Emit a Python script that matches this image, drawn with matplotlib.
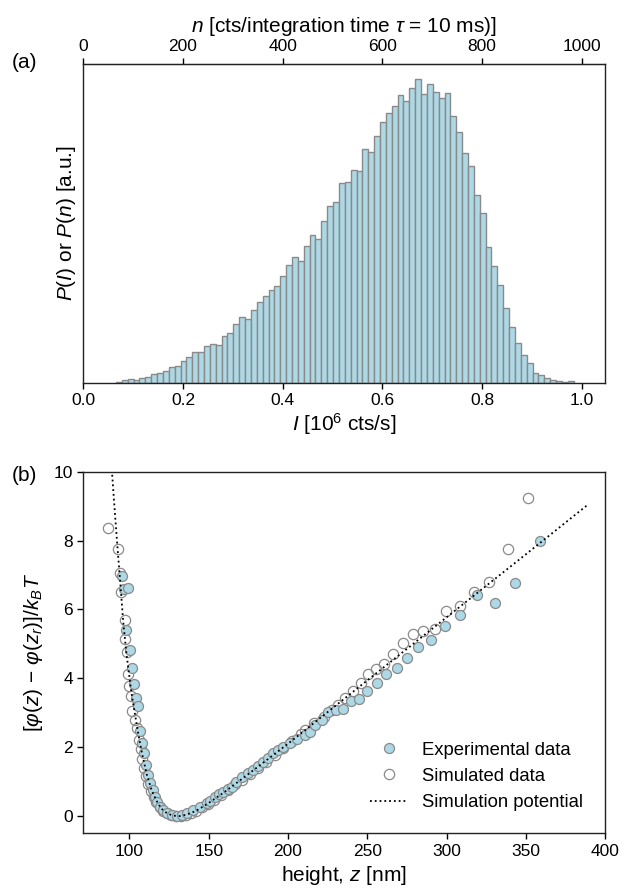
import numpy as np
import matplotlib
matplotlib.use("Agg")
import matplotlib.pyplot as plt
from matplotlib.lines import Line2D

plt.rcParams["font.family"] = ["Liberation Sans", "DejaVu Sans"]
plt.rcParams["mathtext.fontset"] = "custom"
plt.rcParams["mathtext.rm"] = "Liberation Sans"
plt.rcParams["mathtext.it"] = "Liberation Sans:italic"
plt.rcParams["mathtext.bf"] = "Liberation Sans:bold"

# ----- (a) intensity histogram, bar heights (a.u.) -----
hist_first_edge = 0.0656   # 10^6 cts/s
hist_last_edge = 0.984
hist_heights = [
    1.0, 2.3, 4.0, 3.0, 5.0, 6.0, 8.3, 9.7, 12.0, 15.3,
    17.0, 21.3, 26.0, 31.0, 31.0, 37.0, 39.0, 37.7, 46.3, 50.0,
    58.3, 65.7, 64.0, 72.7, 81.0, 86.3, 92.3, 96.7, 106.7, 117.3,
    125.3, 121.3, 136.3, 147.7, 144.0, 162.0, 176.3, 180.3, 199.7, 200.3,
    212.7, 212.0, 234.0, 230.7, 247.0, 260.3, 269.7, 276.3, 287.7, 282.0,
    295.0, 303.3, 289.0, 298.7, 290.3, 284.7, 289.7, 267.0, 251.0, 230.0,
    217.0, 187.3, 169.3, 136.0, 116.3, 97.3, 74.3, 55.3, 39.3, 28.0,
    19.3, 9.3, 7.3, 4.7, 3.0, 1.3, 0.3, 1.3,
]

# ----- (b) potential vs height -----
exp_z = [
    95.2, 96.7, 97.7, 99.2, 100.3, 101.3, 102.8, 104.0, 105.5, 106.6,
    107.8, 109.3, 110.4, 111.6, 112.9, 114.6, 116.0, 117.5, 119.2, 121.3,
    123.8, 126.6, 129.7, 132.9, 136.0, 140.2, 144.4, 148.7, 151.0, 153.9,
    156.5, 159.2, 162.0, 164.5, 167.5, 170.8, 174.5, 178.1, 181.0, 184.4,
    187.5, 190.7, 194.0, 197.0, 201.0, 205.5, 210.8, 213.9, 217.0, 221.3,
    225.5, 230.3, 234.9, 239.6, 245.0, 250.1, 256.0, 261.9, 268.6, 274.9,
    282.3, 290.3, 298.9, 308.6, 319.1, 330.7, 343.3, 358.7,
]
exp_phi = [
    6.97, 6.60, 5.39, 6.62, 4.83, 4.30, 3.84, 3.43, 3.20, 2.48,
    2.13, 1.82, 1.48, 1.19, 0.95, 0.75, 0.56, 0.42, 0.27, 0.17,
    0.10, 0.03, 0.00, 0.03, 0.08, 0.17, 0.27, 0.37, 0.45, 0.56,
    0.63, 0.71, 0.78, 0.85, 0.98, 1.14, 1.25, 1.35, 1.46, 1.57,
    1.70, 1.82, 1.92, 2.00, 2.12, 2.25, 2.35, 2.44, 2.64, 2.78,
    3.02, 3.07, 3.12, 3.34, 3.40, 3.63, 3.86, 4.14, 4.31, 4.60,
    4.91, 5.12, 5.51, 5.84, 6.41, 6.18, 6.76, 8.00,
]

sim_z = [
    86.2, 92.9, 93.9, 94.6, 96.9, 97.3, 98.2, 98.8, 99.8, 100.7,
    101.9, 103.4, 104.9, 106.0, 107.0, 108.2, 109.4, 110.7, 112.0, 113.5,
    115.2, 117.0, 119.0, 121.3, 123.8, 126.5, 129.5, 132.5, 135.5, 138.8,
    142.2, 145.8, 149.5, 153.5, 157.7, 162.0, 166.5, 171.0, 176.0, 181.0,
    186.0, 191.5, 197.0, 202.5, 208.0, 210.9, 216.2, 222.5, 227.7, 231.8,
    236.0, 241.2, 246.1, 250.7, 255.6, 260.6, 266.1, 272.8, 278.7, 285.4,
    292.8, 299.6, 308.6, 317.5, 327.1, 338.7, 351.1,
]
sim_phi = [
    8.36, 7.75, 7.06, 6.50, 5.68, 5.13, 4.76, 4.14, 3.77, 3.49,
    3.05, 2.80, 2.55, 2.20, 1.95, 1.65, 1.40, 1.15, 0.92, 0.72,
    0.55, 0.40, 0.27, 0.16, 0.08, 0.03, 0.00, 0.00, 0.03, 0.08,
    0.15, 0.25, 0.35, 0.48, 0.62, 0.75, 0.92, 1.06, 1.22, 1.40,
    1.58, 1.78, 1.98, 2.18, 2.38, 2.50, 2.69, 2.88, 3.07, 3.22,
    3.44, 3.63, 3.86, 4.12, 4.28, 4.41, 4.72, 5.02, 5.29, 5.37,
    5.44, 5.95, 6.09, 6.52, 6.79, 7.76, 9.23,
]

pot_z = [
    89.1, 90.5, 92.5, 94.0, 96.0, 98.0, 101.3, 105.5, 108.0, 111.0,
    114.0, 117.0, 120.0, 124.0, 128.0, 132.0, 136.0, 142.0, 150.0, 160.0,
    175.0, 200.0, 250.0, 300.0, 350.0, 389.6,
]
pot_phi = [
    9.91, 9.00, 7.76, 6.90, 5.68, 4.75, 3.56, 2.40, 1.80, 1.20,
    0.75, 0.45, 0.22, 0.07, 0.01, 0.00, 0.04, 0.15, 0.38, 0.70,
    1.22, 2.10, 3.94, 5.77, 7.60, 9.06,
]

FILL = "#add8e6"
EDGE = "#8a8a8a"
TICK_FS = 12.5
LABEL_FS = 15


def style_axes(ax):
    for sp in ax.spines.values():
        sp.set_linewidth(1.0)
        sp.set_color("#222222")
    ax.tick_params(direction="out", length=4, width=1, labelsize=TICK_FS)


def main() -> None:
    fig = plt.figure(figsize=(6.34, 8.96), dpi=100)
    ax1 = fig.add_axes([0.1314, 0.5729, 0.8229, 0.3557])
    ax2 = fig.add_axes([0.1317, 0.0700, 0.8226, 0.4035])

    # ----- (a) histogram -----
    edges = np.linspace(hist_first_edge, hist_last_edge, len(hist_heights) + 1)
    centers = 0.5 * (edges[:-1] + edges[1:])
    ax1.hist(centers, bins=edges, weights=hist_heights, color=FILL,
             edgecolor=EDGE, linewidth=1.0)
    ax1.set_xlim(0, 1.047)
    ax1.set_ylim(0, 318.7)
    ax1.set_yticks([])
    ax1.set_xticks([0.0, 0.2, 0.4, 0.6, 0.8, 1.0])
    ax1.set_xticklabels(["0.0", "0.2", "0.4", "0.6", "0.8", "1.0"])
    ax1.set_xlabel(r"$I$ [10$^6$ cts/s]", fontsize=LABEL_FS, labelpad=2)
    ax1.set_ylabel(r"$P(I)$ or $P(n)$ [a.u.]", fontsize=LABEL_FS)
    style_axes(ax1)

    top = ax1.secondary_xaxis("top", functions=(lambda i: i * 1000, lambda n: n / 1000))
    top.set_xticks([0, 200, 400, 600, 800, 1000])
    top.tick_params(direction="out", length=4, width=1, labelsize=TICK_FS)
    top.set_xlabel(r"$n$ [cts/integration time $\tau$ = 10 ms)]", fontsize=LABEL_FS, labelpad=5)

    # ----- (b) potential -----
    ax2.plot(sim_z, sim_phi, linestyle="none", marker="o", ms=7.4,
             mfc="none", mec=EDGE, mew=0.9, zorder=2)
    ax2.plot(exp_z, exp_phi, linestyle="none", marker="o", ms=7.2,
             mfc=FILL, mec=EDGE, mew=0.9, zorder=3)
    ax2.plot(pot_z, pot_phi, linestyle=":", color="black", lw=1.3, zorder=4)

    ax2.set_xlim(71, 400)
    ax2.set_ylim(-0.5, 10)
    ax2.set_xticks([100, 150, 200, 250, 300, 350, 400])
    ax2.set_yticks([0, 2, 4, 6, 8, 10])
    ax2.set_xlabel(r"height, $z$ [nm]", fontsize=LABEL_FS)
    ax2.set_ylabel(r"[$\varphi(z)$ $-$ $\varphi(z_r)$]/$k_BT$", fontsize=LABEL_FS, labelpad=6)
    style_axes(ax2)

    handles = [
        Line2D([], [], linestyle="none", marker="o", ms=7.2, mfc=FILL, mec=EDGE, mew=0.9),
        Line2D([], [], linestyle="none", marker="o", ms=7.4, mfc="none", mec=EDGE, mew=0.9),
        Line2D([], [], linestyle=":", color="black", lw=1.3),
    ]
    ax2.legend(handles, ["Experimental data", "Simulated data", "Simulation potential"],
               loc="lower right", frameon=False, fontsize=13.3, handlelength=2.0,
               borderaxespad=0.8)

    fig.text(0.019, 0.930, "(a)", fontsize=LABEL_FS, va="center", ha="left")
    fig.text(0.019, 0.469, "(b)", fontsize=LABEL_FS, va="center", ha="left")

    fig.savefig("out.png", dpi=100)
    plt.close(fig)


if __name__ == "__main__":
    main()
